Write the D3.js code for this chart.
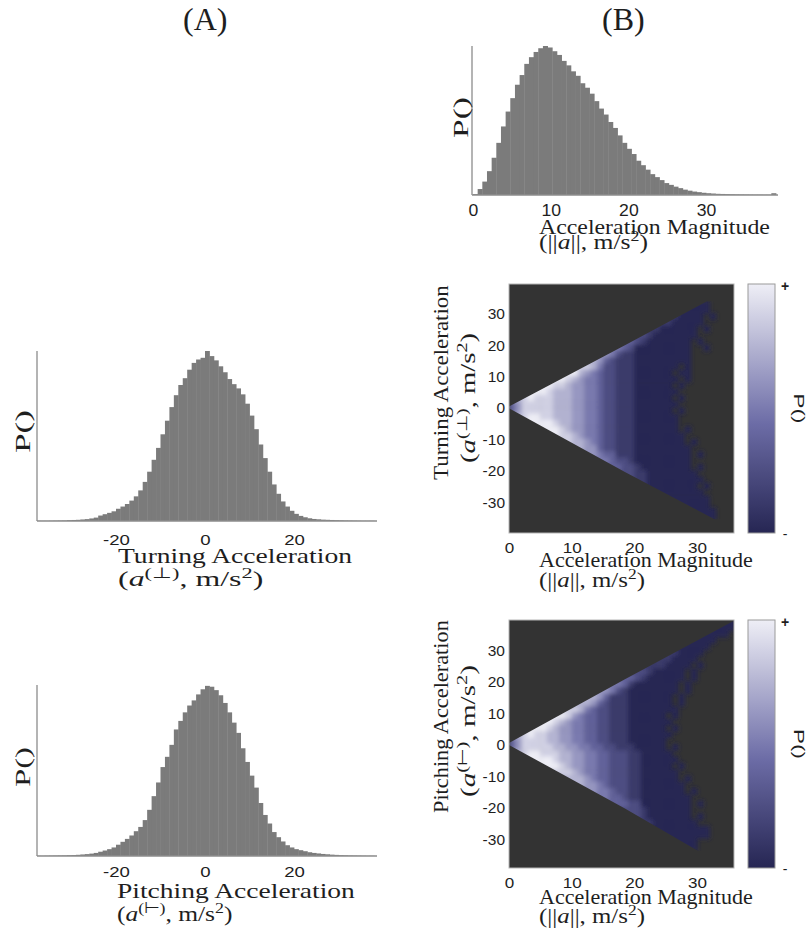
<!DOCTYPE html>
<html lang="en">
<head>
  <meta charset="UTF-8">
  <title>Acceleration distributions</title>
  <style>
    body { margin: 0; background: #fff; }
    svg { display: block; }
  </style>
</head>
<body>
  <svg id="svg" width="812" height="935"></svg>
  <script src="https://d3js.org/d3.v7.min.js"></script>
  <script>
    // ||a|| histogram: bins of 0.6 from 0 to 39, height relative to the peak bin
    const magBinWidth = 0.6
    const magHist = [0.6, 4, 9, 16, 25, 35, 46, 56, 65, 74, 80.5, 88, 92.5, 96, 98.5, 100, 99, 96.5, 94, 90,
      87, 83, 80, 75, 72, 68, 63, 58, 54, 49, 45, 40, 35, 31, 27.5, 23, 20, 17, 14, 12,
      10, 8, 6.8, 5.6, 4.6, 3.6, 2.9, 2.3, 1.9, 1.5, 1.2, 1.0, 0.8, 0.7, 0.6, 0.5, 0.4, 0.35, 0.3, 0.25,
      0.2, 0.2, 0.15, 0.15, 1.2]

    // turning / pitching histograms: bins of 1 from -38 to 38
    const compBinStart = -38
    const turnHist = [0.1, 0.1, 0.1, 0.15, 0.2, 0.25, 0.3, 0.5, 0.6, 0.7, 0.9, 1.1, 1.5, 2.0, 3.2, 4, 4.8, 5.7, 7.2, 8.5,
      10, 12, 14.5, 18, 23, 29, 36, 43, 51, 59, 67, 74, 80, 84, 89, 93, 95, 96,
      100, 97, 94.5, 91, 87.5, 83.5, 80.5, 78, 74.5, 69, 62, 54, 45, 37, 29, 21.5, 16, 11.5, 8.5, 6,
      4.2, 3.0, 2.2, 1.6, 1.2, 1.0, 0.8, 0.7, 0.6, 0.5, 0.4, 0.3, 0.25, 0.2, 0.15, 0.1, 0.1, 0.1]
    const pitchHist = [0.1, 0.1, 0.15, 0.2, 0.25, 0.3, 0.35, 0.45, 0.55, 0.7, 0.9, 1.1, 1.4, 1.8, 2.5, 3.2, 4.0, 5.0, 6.6, 8.3,
      10, 12, 14.5, 17, 21, 27, 35, 43, 52, 58, 65, 74, 79, 84, 88, 91, 94.5, 97.5,
      99.5, 99, 97, 94, 89.5, 84, 78, 72, 63, 55, 47, 40, 31, 24, 19, 14, 11, 8.5, 6.3, 5,
      4, 3.4, 2.8, 2.2, 1.8, 1.5, 1.2, 1.0, 0.8, 0.65, 0.5, 0.4, 0.3, 0.25, 0.2, 0.15, 0.1, 0.1]

    // 2D histograms, one row per 2 units of y from +40 down to -40,
    // [first column, levels]; column = 1 unit of ||a||, '.' = empty, 1..9 = density level
    const turnGrid = [
      [0, ''], [0, ''], [0, ''],
      [28, '1111'],
      [26, '111111'],
      [24, '2221111.1'],
      [23, '22211111'],
      [21, '222111111.1'],
      [19, '33321111111'],
      [17, '444321111111.1'],
      [15, '55543111111111..1'],
      [13, '6665322111111111'],
      [11, '777643222111111111'],
      [10, '88875332221111111.1'],
      [8, '999765433222111111.11'],
      [6, '999876554332221111111.1'],
      [4, '9998876655433222111111.1'],
      [2, '9999877766554332221111111'],
      [0, '77898887776655433222111111.1'],
      [0, '468888877766554332221111111'],
      [0, '46888887776655433222111111.1'],
      [0, '778998877766554332221111111'],
      [2, '9999987766554332221111111'],
      [4, '99998766554332221111111.1'],
      [6, '9988765543322211111111'],
      [8, '88776543322211111111.1'],
      [9, '77766433222111111111'],
      [11, '666544222111111111.1'],
      [13, '5554332111111111'],
      [15, '44433211111111.1'],
      [17, '3332211111111'],
      [18, '3322111111111'],
      [20, '2211111111.1'],
      [22, '111111111'],
      [24, '11111111'],
      [26, '111111'],
      [28, '11111'],
      [30, '111'],
      [0, ''], [0, '']
    ]
    const pitchGrid = [
      [33, '111'],
      [32, '1111'],
      [30, '11111'],
      [28, '11111'],
      [26, '111111'],
      [24, '2221111'],
      [23, '2221111'],
      [21, '22221111.1'],
      [19, '333211111.1'],
      [17, '44432111111.1'],
      [15, '555421111111.1'],
      [13, '66653211111111.1'],
      [11, '777642221111111.1'],
      [10, '7776432221111111.1'],
      [8, '8887543322211111111'],
      [6, '9998654433222111111.1'],
      [4, '9998765544332221111111'],
      [2, '99998766554433222111111.1'],
      [0, '77898877665544332221111111'],
      [0, '4688887766554433222111111'],
      [0, '4688888776655443322211111.1'],
      [0, '77899888776655443332211111'],
      [2, '9999987766554433322111111'],
      [4, '9999876655443332211111.1'],
      [6, '888876554433322111111'],
      [8, '7777654433322111111.1'],
      [9, '7776654333221111111'],
      [11, '66655433221111111.1'],
      [13, '5554432211111111'],
      [15, '44443311111111.1'],
      [17, '333321111111'],
      [18, '33321111111.1'],
      [20, '2221111111'],
      [22, '1111111111'],
      [24, '11111111'],
      [26, '1111'],
      [27, '111'],
      [0, ''], [0, ''], [0, '']
    ]
    // outline of the occupied wedge (||a||, component) used to trim the cells
    const turnOutline = [[0, 0.3], [18.5, 19.8], [31.6, 33.8], [40, 33.8], [40, -36], [32.8, -35.6], [18.5, -20.6], [0, -0.3]]
    const pitchOutline = [[0, 0.3], [18.5, 20.6], [36.3, 39.6], [40, 39.6], [40, -34], [30.2, -34], [18.5, -20.5], [0, -0.3]]

    const magTicks = [0, 10, 20, 30]
    const compTicks = [-20, 0, 20]
    const heatYTicks = [30, 20, 10, 0, -10, -20, -30]
    const levelColors = ['#262653', '#6c6ca6', '#eeeef6']

    const svg = d3.select('#svg')
    const defs = svg.append('defs')
    const serif = 'Liberation Serif, Times New Roman, serif'
    const sans = 'Liberation Sans, Arial, sans-serif'
    const ink = '#1e1e1e'

    // text with italic / superscript pieces, stretched to a given width
    function mathText(parts, o) {
      const t = svg.append('text')
        .attr('font-family', o.family || serif)
        .attr('font-size', o.size)
        .attr('fill', ink)
      let shift = 0
      parts.forEach(p => {
        const s = t.append('tspan').text(p.t)
        if (p.i) s.attr('font-style', 'italic')
        const want = p.sup ? -o.size * 0.38 : 0
        if (want !== shift) { s.attr('dy', want - shift); shift = want }
        if (p.sup) s.attr('font-size', o.size * 0.7)
      })
      const w = t.node().getComputedTextLength()
      const sx = o.width ? o.width / w : 1
      let tr = `translate(${o.x},${o.y})`
      if (o.rotate) tr += ` rotate(${o.rotate})`
      tr += ` scale(${sx},1)`
      t.attr('transform', tr)
      return t
    }
    const plain = s => [{ t: s }]
    const magUnits = [{ t: '(||' }, { t: 'a', i: true }, { t: '||, m/s' }, { t: '2', sup: true }, { t: ')' }]
    const turnUnits = [{ t: '(' }, { t: 'a', i: true }, { t: '(\u22A5)', sup: true }, { t: ', m/s' }, { t: '2', sup: true }, { t: ')' }]
    const pitchUnits = [{ t: '(' }, { t: 'a', i: true }, { t: '(\u22A2)', sup: true }, { t: ', m/s' }, { t: '2', sup: true }, { t: ')' }]

    function tickText(sel, size, sx) {
      sel.select('.domain').remove()
      sel.selectAll('text')
        .attr('font-family', sans)
        .attr('font-size', size)
        .attr('fill', ink)
        .attr('y', 0)
        .attr('dy', '0.36em')
      if (sx) sel.selectAll('text').attr('transform', `scale(${sx},1)`)
    }

    function histogram(o) {
      const x = d3.scaleLinear().domain(o.domain).range(o.range)
      const y = d3.scaleLinear().domain([0, 100]).range([o.base, o.top])
      const g = svg.append('g')
      g.selectAll('rect')
        .data(o.values)
        .enter()
        .append('rect')
        .attr('x', (d, i) => x(o.start + i * o.bw))
        .attr('width', x(o.bw) - x(0) + 0.4)
        .attr('y', d => y(d))
        .attr('height', d => o.base - y(d))
        .attr('fill', '#7b7b7b')
      g.append('line')
        .attr('x1', o.axisX).attr('x2', o.axisX)
        .attr('y1', o.top).attr('y2', o.base)
        .attr('stroke', '#8c8c8c').attr('stroke-width', 1.3)
      g.append('line')
        .attr('x1', o.axisX).attr('x2', o.axisEnd)
        .attr('y1', o.base).attr('y2', o.base)
        .attr('stroke', '#8c8c8c').attr('stroke-width', 1.3)
      g.append('g')
        .attr('transform', `translate(0,${o.tickY})`)
        .call(d3.axisBottom(x).tickValues(o.ticks).tickSize(0).tickFormat(d => String(d)))
        .call(s => tickText(s, o.tickSize, o.tickSx))
    }

    function heatmap(grid, outline, yDomain, top, bottom, id) {
      const x = d3.scaleLinear().domain([0, 36]).range([509, 734.6])
      const y = d3.scaleLinear().domain(yDomain).range([bottom, top])
      const color = d3.scaleLinear().domain([1, 4.5, 9]).range(levelColors)
      defs.append('clipPath').attr('id', id)
        .append('rect').attr('x', 509).attr('y', top).attr('width', 225).attr('height', bottom - top)
      defs.append('clipPath').attr('id', id + 'w')
        .append('path').attr('d', d3.line().x(d => x(d[0])).y(d => y(d[1]))(outline) + 'Z')
      defs.append('filter').attr('id', id + 'b')
        .attr('x', '-10%').attr('y', '-10%').attr('width', '120%').attr('height', '120%')
        .append('feGaussianBlur').attr('stdDeviation', 2.2)
      svg.append('rect')
        .attr('x', 509).attr('y', top).attr('width', 225).attr('height', bottom - top)
        .attr('fill', '#333333')
      const cells = []
      grid.forEach(([start, levels], j) => {
        levels.split('').forEach((c, k) => {
          if (c !== '.') cells.push({ col: start + k, yTop: 40 - 2 * j, v: +c })
        })
      })
      svg.append('g')
        .attr('clip-path', `url(#${id})`)
        .append('g')
        .attr('clip-path', `url(#${id}w)`)
        .append('g')
        .attr('filter', `url(#${id}b)`)
        .selectAll('rect')
        .data(cells)
        .enter()
        .append('rect')
        .attr('x', d => x(d.col))
        .attr('y', d => y(d.yTop))
        .attr('width', x(1) - x(0) + 0.4)
        .attr('height', y(0) - y(2) + 0.4)
        .attr('fill', d => color(d.v))
      svg.append('rect')
        .attr('x', 509).attr('y', top).attr('width', 225).attr('height', bottom - top)
        .attr('fill', 'none').attr('stroke', '#b5b5b5').attr('stroke-width', 1)

      svg.append('g')
        .attr('transform', 'translate(509,0)')
        .call(d3.axisLeft(y).tickValues(heatYTicks).tickSize(0).tickPadding(4).tickFormat(d => String(d)))
        .call(s => tickText(s, 15.5))
      svg.append('g')
        .attr('transform', `translate(0,${bottom + 14})`)
        .call(d3.axisBottom(x).tickValues(magTicks).tickSize(0).tickFormat(d => String(d)))
        .call(s => tickText(s, 15.5, 1.1))

      // colour bar
      const grad = defs.append('linearGradient')
        .attr('id', id + 'g').attr('x1', 0).attr('x2', 0).attr('y1', 1).attr('y2', 0)
      d3.range(1, 9.01, 0.5).forEach(v => {
        grad.append('stop').attr('offset', (v - 1) / 8).attr('stop-color', color(v))
      })
      svg.append('rect')
        .attr('x', 748).attr('y', top).attr('width', 27).attr('height', bottom - top)
        .attr('fill', `url(#${id}g)`).attr('stroke', '#9a9a9a').attr('stroke-width', 1)
      svg.append('text').text('+')
        .attr('x', 785).attr('y', top + 7).attr('text-anchor', 'middle')
        .attr('font-family', sans).attr('font-size', 14).attr('font-weight', 'bold').attr('fill', ink)
      svg.append('text').text('-')
        .attr('x', 785).attr('y', bottom + 6).attr('text-anchor', 'middle')
        .attr('font-family', sans).attr('font-size', 14).attr('fill', ink)
      mathText(plain('P()'), { x: 794, y: (top + bottom) / 2 - 15, rotate: 90, size: 15, family: sans, width: 30 })
    }

    // (B) top: acceleration magnitude
    histogram({
      values: magHist, start: 0, bw: magBinWidth, domain: [0, 39], range: [473, 776],
      base: 195, top: 46, axisX: 472, axisEnd: 778, ticks: magTicks, tickY: 210.5, tickSize: 16, tickSx: 1.1
    })
    // (A) turning and pitching
    histogram({
      values: turnHist, start: compBinStart, bw: 1, domain: [-38, 38], range: [35.9, 374.1],
      base: 521, top: 351, axisX: 37, axisEnd: 377, ticks: compTicks, tickY: 539, tickSize: 15.5, tickSx: 1.2
    })
    histogram({
      values: pitchHist, start: compBinStart, bw: 1, domain: [-38, 38], range: [35.9, 374.1],
      base: 856, top: 685, axisX: 37, axisEnd: 377, ticks: compTicks, tickY: 871.5, tickSize: 15.5, tickSx: 1.2
    })

    heatmap(turnGrid, turnOutline, [-40, 39.3], 284, 533, 'turn')
    heatmap(pitchGrid, pitchOutline, [-39.4, 39.4], 620, 868, 'pitch')

    // panel headings
    mathText(plain('(A)'), { x: 183, y: 30, size: 32 })
    mathText(plain('(B)'), { x: 602, y: 30, size: 32 })

    // axis titles
    mathText(plain('P()'), { x: 468, y: 138, rotate: -90, size: 21, width: 41 })
    mathText(plain('Acceleration Magnitude'), { x: 539, y: 234, size: 20.5, width: 231 })
    mathText(magUnits, { x: 539, y: 249, size: 20.5, width: 109 })

    mathText(plain('P()'), { x: 30, y: 453, rotate: -90, size: 21, width: 43 })
    mathText(plain('Turning Acceleration'), { x: 118, y: 563, size: 21, width: 234 })
    mathText(turnUnits, { x: 118, y: 586, size: 21, width: 145 })

    mathText(plain('P()'), { x: 30, y: 787, rotate: -90, size: 21, width: 40 })
    mathText(plain('Pitching Acceleration'), { x: 117, y: 898, size: 21, width: 238 })
    mathText(pitchUnits, { x: 117, y: 921, size: 21, width: 116 })

    mathText(plain('Turning Acceleration'), { x: 448, y: 480, rotate: -90, size: 20, width: 195 })
    mathText(turnUnits, { x: 475, y: 463, rotate: -90, size: 20, width: 130 })
    mathText(plain('Acceleration Magnitude'), { x: 539, y: 567, size: 20, width: 214 })
    mathText(magUnits, { x: 539, y: 587, size: 20, width: 106 })

    mathText(plain('Pitching Acceleration'), { x: 448, y: 813, rotate: -90, size: 20, width: 193 })
    mathText(pitchUnits, { x: 475, y: 797, rotate: -90, size: 20, width: 132 })
    mathText(plain('Acceleration Magnitude'), { x: 539, y: 904, size: 20, width: 214 })
    mathText(magUnits, { x: 539, y: 923, size: 20, width: 106 })
  </script>
</body>
</html>
